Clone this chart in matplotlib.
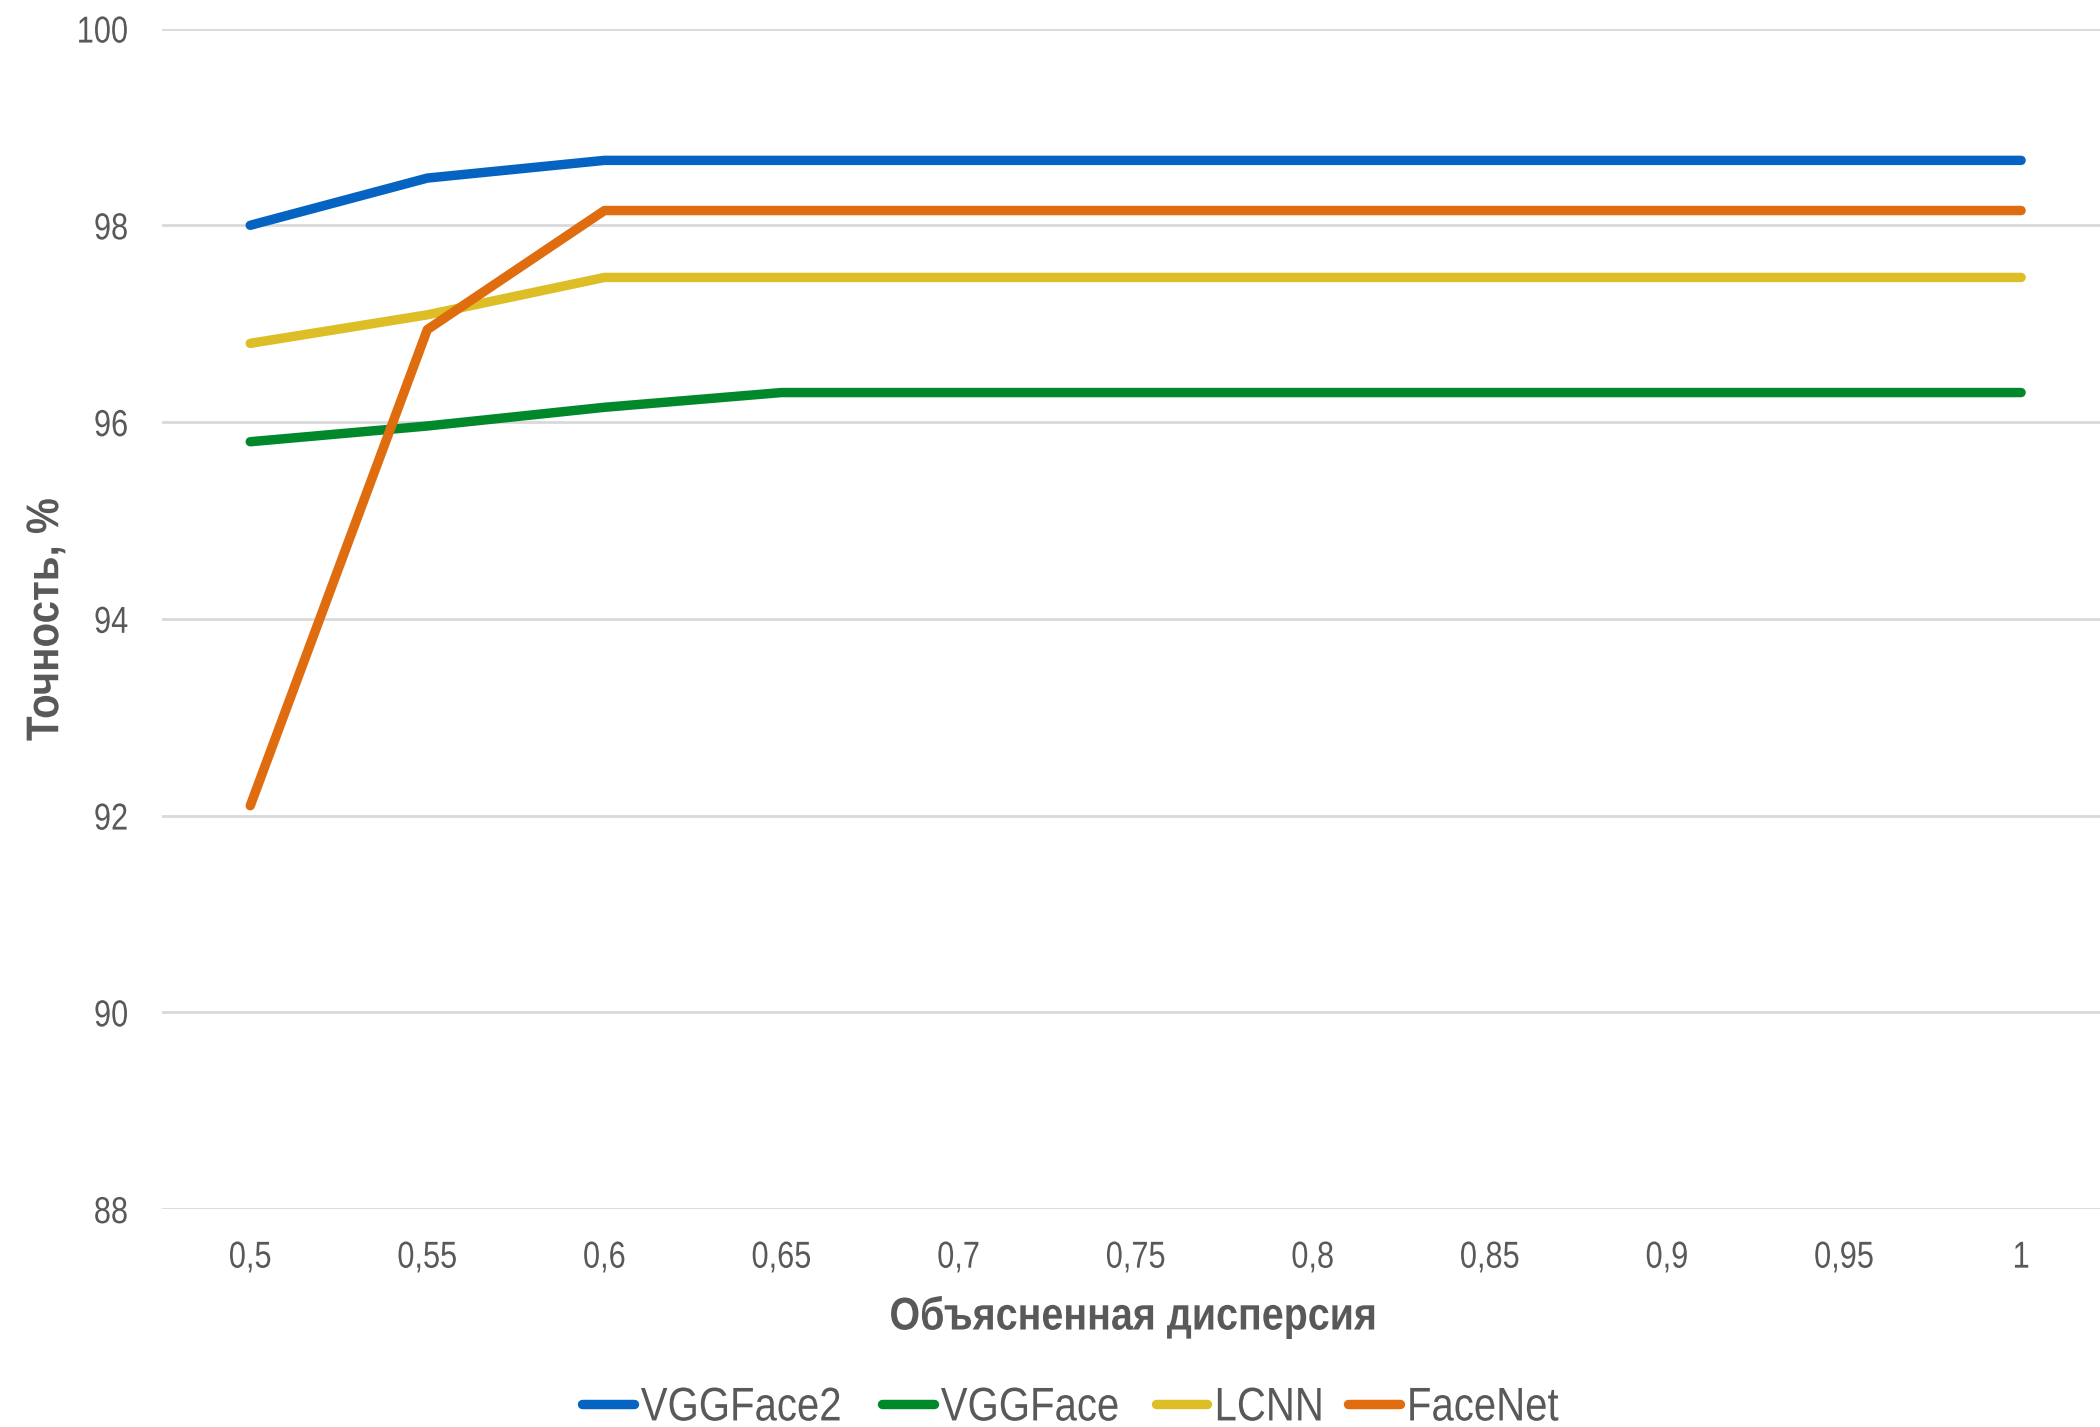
import matplotlib.pyplot as plt
from matplotlib.patheffects import AbstractPathEffect
from matplotlib.transforms import Affine2D

# Данные: доля объясненной дисперсии и точность моделей
dispersiya = ['0,5', '0,55', '0,6', '0,65', '0,7', '0,75', '0,8', '0,85', '0,9', '0,95', '1']
vggface2 = [98.0, 98.48, 98.66, 98.66, 98.66, 98.66, 98.66, 98.66, 98.66, 98.66, 98.66]
vggface = [95.8, 95.96, 96.15, 96.3, 96.3, 96.3, 96.3, 96.3, 96.3, 96.3, 96.3]
lcnn = [96.8, 97.09, 97.47, 97.47, 97.47, 97.47, 97.47, 97.47, 97.47, 97.47, 97.47]
facenet = [92.1, 96.94, 98.15, 98.15, 98.15, 98.15, 98.15, 98.15, 98.15, 98.15, 98.15]

y_ticks = [88, 90, 92, 94, 96, 98, 100]
nazvaniya = ['VGGFace2', 'VGGFace', 'LCNN', 'FaceNet']
tsveta = ['#0563C1', '#00882B', '#DDBE26', '#E06C10']

plt.rcParams['font.family'] = ['Liberation Sans', 'DejaVu Sans']
gris = '#595959'


class Uzkiy(AbstractPathEffect):
    """Сжимает текст по горизонтали (узкий шрифт)."""

    def __init__(self, sx=0.85, align='center'):
        super().__init__()
        self.sx = sx
        self.align = align

    def draw_path(self, renderer, gc, tpath, affine, rgbFace=None):
        ext = tpath.get_extents()
        if self.align == 'center':
            x0 = (ext.x0 + ext.x1) / 2
        elif self.align == 'right':
            x0 = ext.x1
        else:
            x0 = 0
        t = Affine2D().translate(-x0, 0).scale(self.sx, 1).translate(x0, 0) + affine
        renderer.draw_path(gc, tpath, t, rgbFace)


fig = plt.figure(figsize=(21, 14.27), dpi=100)
ax = fig.add_axes([0.077, 0.1527, 0.9276, 0.8273])

x = range(len(dispersiya))
for serie, nombre, color in zip([vggface2, vggface, lcnn, facenet], nazvaniya, tsveta):
    ax.plot(x, serie, color=color, lw=6.8, solid_capstyle='round', solid_joinstyle='round', label=nombre)

ax.set_xlim(-0.5, len(dispersiya) - 0.5)
ax.set_ylim(88, 100)
ax.set_xticks(list(x), dispersiya, path_effects=[Uzkiy(0.82, 'center')])
ax.set_yticks(y_ticks, [str(v) for v in y_ticks], path_effects=[Uzkiy(0.82, 'right')])
ax.grid(axis='y', color='#D9D9D9', lw=2)
ax.set_axisbelow(True)
for s in ax.spines.values():
    s.set_visible(False)
ax.tick_params(length=0, labelsize=27, colors=gris, pad=22)
ax.tick_params(axis='y', pad=24)

fig.text(0.540, 0.077, 'Объясненная дисперсия', ha='center', va='center',
         fontsize=33, fontweight='bold', color=gris, path_effects=[Uzkiy(0.86, 'center')])
fig.text(0.022, 0.566, 'Точность, %', ha='center', va='center', rotation=90,
         fontsize=33, fontweight='bold', color=gris, path_effects=[Uzkiy(0.88, 'center')])

leg = fig.legend(loc='center', bbox_to_anchor=(0.516, 0.013), ncol=4, frameon=False,
                 fontsize=34, handlelength=1.1, handletextpad=0.15, columnspacing=0.1)
for t in leg.get_texts():
    t.set_color(gris)
    t.set_path_effects([Uzkiy(0.85, 'left')])
for h in leg.get_lines():
    h.set_linewidth(6.8)
    h.set_solid_capstyle('round')

fig.savefig('out.png', dpi=100)
